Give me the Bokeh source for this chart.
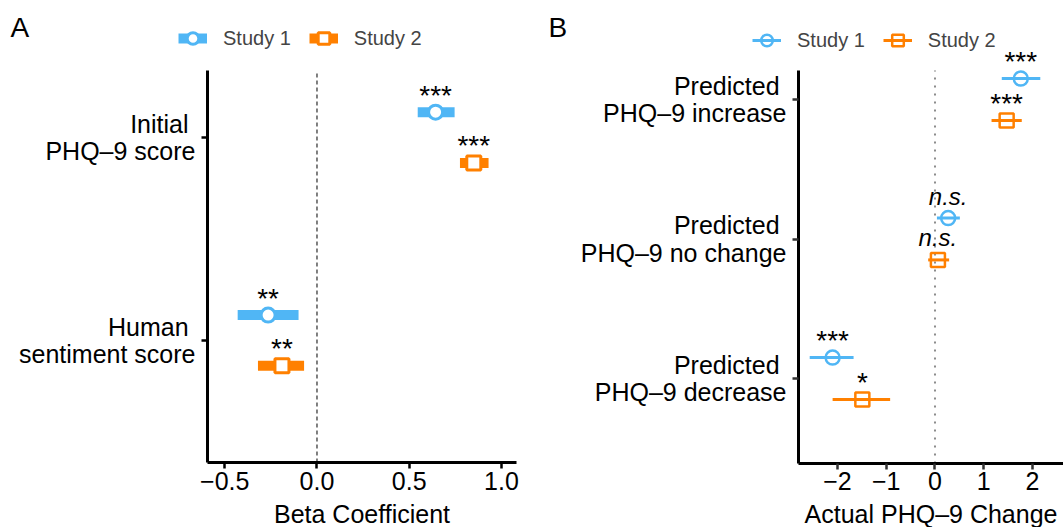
from bokeh.plotting import figure
from bokeh.layouts import row
from bokeh.models import (Range1d, FixedTicker, Legend, LegendItem,
                          ColumnDataSource)
from bokeh.embed import file_html
from bokeh.resources import INLINE
from bokeh.core.properties import value

# ---------------- data ----------------
series_names = ["Study 1", "Study 2"]

# Panel A: regression coefficients
a_categories = ["Initial \nPHQ–9 score", "Human \nsentiment score"]
a_study1_est = [0.643, -0.265]
a_study1_lo = [0.546, -0.430]
a_study1_hi = [0.746, -0.100]
a_study1_sig = ["***", "**"]
a_study2_est = [0.850, -0.190]
a_study2_lo = [0.775, -0.320]
a_study2_hi = [0.930, -0.070]
a_study2_sig = ["***", "**"]
a_xticks = [-0.5, 0.0, 0.5, 1.0]
a_xtick_labels = ["−0.5", "0.0", "0.5", "1.0"]
a_xtitle = "Beta Coefficient"

# Panel B: actual PHQ-9 change by predicted group
b_categories = ["Predicted \nPHQ–9 increase", "Predicted \nPHQ–9 no change",
                "Predicted \nPHQ–9 decrease"]
b_study1_est = [1.76, 0.27, -2.10]
b_study1_lo = [1.37, 0.04, -2.57]
b_study1_hi = [2.16, 0.51, -1.67]
b_study1_sig = ["***", "n.s.", "***"]
b_study2_est = [1.47, 0.06, -1.49]
b_study2_lo = [1.16, -0.14, -2.10]
b_study2_hi = [1.78, 0.29, -0.92]
b_study2_sig = ["***", "n.s.", "*"]
b_xticks = [-2, -1, 0, 1, 2]
b_xtick_labels = ["−2", "−1", "0", "1", "2"]
b_xtitle = "Actual PHQ–9 Change"

# ---------------- style ----------------
FONT = "Liberation Sans"
BLUE = "#50B6F5"
ORANGE = "#FF8000"
STAR_OFF = -17
NS_OFF = -22
H = 527


def make_panel(width, xr, yr, ax_x, ax_y, ax_xend, ax_ytop, cats, xticks,
               xlabels, tick_color, letter, letter_dx, xtitle):
    p = figure(width=width, height=H, x_range=Range1d(*xr), y_range=Range1d(*yr),
               output_backend="svg", toolbar_location=None, title=None,
               min_border_left=0, min_border_right=0, min_border_top=0,
               min_border_bottom=0)
    p.outline_line_color = None
    p.xgrid.visible = False
    p.ygrid.visible = False
    p.background_fill_color = "white"
    p.border_fill_color = "white"
    xa, ya = p.xaxis[0], p.yaxis[0]
    xa.fixed_location = ax_y
    ya.fixed_location = ax_x
    xa.bounds = (ax_x, ax_xend)
    ya.bounds = (ax_y, ax_ytop)
    for ax in (xa, ya):
        ax.axis_line_width = 3
        ax.axis_line_color = "black"
        ax.major_tick_line_color = tick_color
        ax.major_tick_line_width = 2.5
        ax.major_tick_out = 6
        ax.major_tick_in = 0
        ax.minor_tick_line_color = None
        ax.major_label_text_font = FONT
        ax.major_label_text_font_size = "25px"
        ax.major_label_text_color = "black"
    xa.major_label_standoff = 3
    ya.major_label_standoff = 6
    ya.major_label_text_line_height = 0.98
    n = len(cats)
    ya.ticker = FixedTicker(ticks=[n - i for i in range(n)])
    ya.major_label_overrides = {n - i: c for i, c in enumerate(cats)}
    xa.ticker = FixedTicker(ticks=xticks)
    xa.major_label_overrides = dict(zip(xticks, xlabels))
    # axis title (centered under the axis line)
    p.text(x=[(ax_x + ax_xend) / 2], y=[ax_y], text=[xtitle], text_font=value(FONT),
           text_font_size="25px", text_align="center", text_baseline="alphabetic",
           text_color="black", y_offset=51)
    # panel letter
    p.text(x=[xr[0]], y=[yr[1]], text=[letter], text_font=value(FONT),
           text_font_size="28px", text_align="left", text_baseline="alphabetic",
           text_color="black", x_offset=letter_dx, y_offset=27)
    return p


def add_series(p, cats, est, lo, hi, sig, dodge, color, marker, bar_w, mk_size,
               mk_lw, fill):
    n = len(cats)
    ys = [n - i + dodge for i in range(n)]
    src = ColumnDataSource(dict(est=est, lo=lo, hi=hi, y=ys))
    seg = p.segment(x0="lo", y0="y", x1="hi", y1="y", source=src,
                    line_color=color, line_width=bar_w, line_cap="butt")
    sc = p.scatter(x="est", y="y", source=src, marker=marker, size=mk_size,
                   line_color=color, line_width=mk_lw, fill_color=fill,
                   fill_alpha=1.0 if fill else 0.0)
    st = dict(x=[], y=[], t=[])
    ns = dict(x=[], y=[], t=[])
    for e, yy, s in zip(est, ys, sig):
        d = ns if s == "n.s." else st
        d["x"].append(e)
        d["y"].append(yy)
        d["t"].append(s)
    p.text(x="x", y="y", text="t", source=ColumnDataSource(st),
           text_font=value(FONT), text_font_size="28px", text_align="center",
           text_baseline="alphabetic", text_color="black", y_offset=STAR_OFF)
    if ns["x"]:
        p.text(x="x", y="y", text="t", source=ColumnDataSource(ns),
               text_font=value(FONT), text_font_size="24px",
               text_font_style="italic", text_align="center",
               text_baseline="alphabetic", text_color="black", y_offset=NS_OFF)
    return seg, sc


def make_legend(r1, r2, loc):
    return Legend(items=[LegendItem(label=series_names[0], renderers=list(r1)),
                         LegendItem(label=series_names[1], renderers=list(r2))],
                  orientation="horizontal", location=loc, padding=0, margin=0,
                  spacing=18, glyph_width=29, glyph_height=30, label_standoff=16,
                  label_text_font=FONT, label_text_font_size="20px",
                  border_line_alpha=0, background_fill_alpha=0)


# ---------------- panel A ----------------
a_xr = (-1.7157, 1.1574)
a_yr = (0.0788, 2.6749)
a_ax_x, a_ax_y, a_ax_xend, a_ax_ytop = -0.5936, 0.399, 1.0815, 2.330
pa = make_panel(530, a_xr, a_yr, a_ax_x, a_ax_y, a_ax_xend, a_ax_ytop,
                a_categories, a_xticks, a_xtick_labels, "black", "A", 10, a_xtitle)
pa.segment(x0=[0], y0=[a_ax_y], x1=[0], y1=[a_ax_ytop], line_color="black",
           line_width=1, line_dash="4 3")
a1 = add_series(pa, a_categories, a_study1_est, a_study1_lo, a_study1_hi,
                a_study1_sig, 0.125, BLUE, "circle", 10, 14, 3, "white")
a2 = add_series(pa, a_categories, a_study2_est, a_study2_lo, a_study2_hi,
                a_study2_sig, -0.125, ORANGE, "square", 10, 14, 3, "white")
pa.add_layout(make_legend(a1, a2, (178, 474)))

# ---------------- panel B ----------------
b_xr = (-8.297, 2.636)
b_yr = (-0.0681, 3.7097)
b_ax_x, b_ax_y, b_ax_xend, b_ax_ytop = -2.800, 0.3907, 2.636, 3.2079
pb = make_panel(533, b_xr, b_yr, b_ax_x, b_ax_y, b_ax_xend, b_ax_ytop,
                b_categories, b_xticks, b_xtick_labels, "#333333", "B", 18, b_xtitle)
pb.segment(x0=[0], y0=[b_ax_y], x1=[0], y1=[b_ax_ytop], line_color="#8C8C8C",
           line_width=2, line_dash="2 6")
b1 = add_series(pb, b_categories, b_study1_est, b_study1_lo, b_study1_hi,
                b_study1_sig, 0.15, BLUE, "circle", 3, 14, 2.5, None)
b2 = add_series(pb, b_categories, b_study2_est, b_study2_lo, b_study2_hi,
                b_study2_sig, -0.15, ORANGE, "square", 3, 14, 2.5, None)
pb.add_layout(make_legend(b1, b2, (222, 472)))

layout = row(pa, pb, spacing=0)
open("out.html", "w").write(file_html(layout, INLINE))
